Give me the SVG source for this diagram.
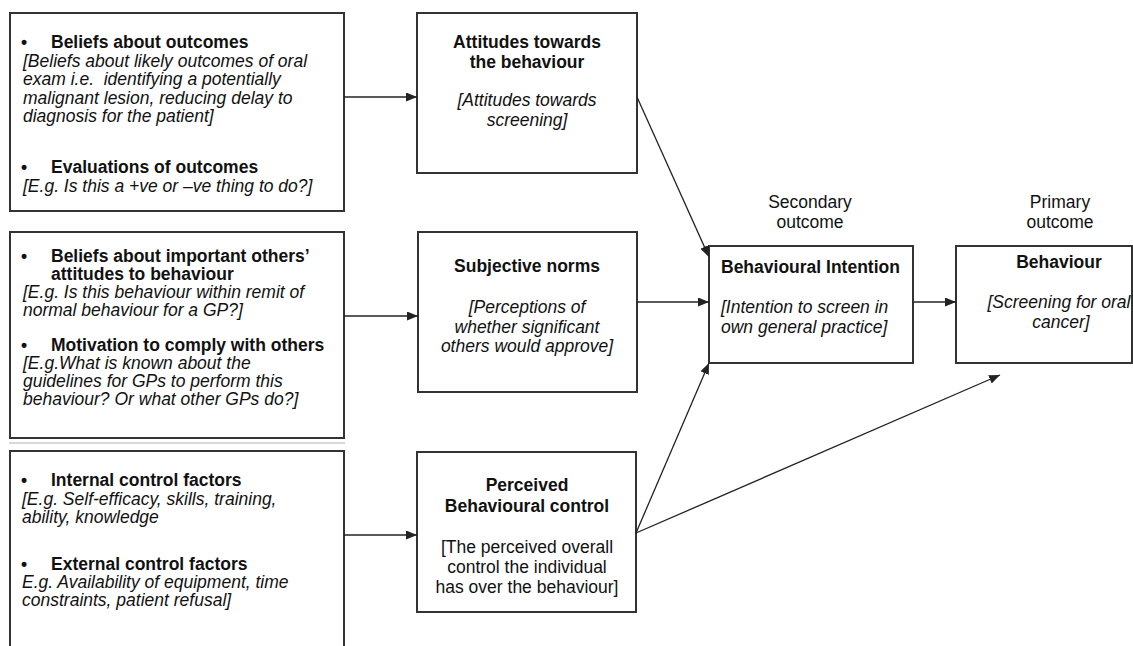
<svg xmlns="http://www.w3.org/2000/svg" width="1133" height="646" viewBox="0 0 1133 646">
<style>
text{font-family:"Liberation Sans",Arial,sans-serif;font-size:17.5px;fill:#111}
.b{font-weight:bold}
.i{font-style:italic}
.c{text-anchor:middle}
.box{fill:#fff;stroke:#333;stroke-width:2}
.conn line{stroke:#222;stroke-width:1.3;fill:none}
</style>
<defs>
<marker id="ah" markerUnits="userSpaceOnUse" markerWidth="12" markerHeight="10" refX="11" refY="4.5" orient="auto">
<path d="M0,0 L11,4.5 L0,9 z" fill="#222"/>
</marker>
</defs>
<rect width="1133" height="646" fill="#fff"/>
<line x1="9" y1="443" x2="345" y2="443" stroke="#d8d8d8" stroke-width="2"/>

<g id="beliefs-outcomes">
<rect class="box" x="10" y="13" width="334" height="198"/>
<text class="b" x="21" y="48">•</text>
<text class="b" x="51" y="48">Beliefs about outcomes</text>
<text class="i" x="23" y="67">[Beliefs about likely outcomes of oral</text>
<text class="i" x="23" y="85">exam i.e.&#160; identifying a potentially</text>
<text class="i" x="23" y="103.5">malignant lesion, reducing delay to</text>
<text class="i" x="23" y="122">diagnosis for the patient]</text>
<text class="b" x="21" y="173">•</text>
<text class="b" x="51" y="173">Evaluations of outcomes</text>
<text class="i" x="23" y="191.5">[E.g. Is this a +ve or –ve thing to do?]</text>
</g>

<g id="normative-beliefs">
<rect class="box" x="10" y="232" width="334" height="206"/>
<text class="b" x="21" y="262">•</text>
<text class="b" x="51" y="262">Beliefs about important others’</text>
<text class="b" x="51" y="280">attitudes to behaviour</text>
<text class="i" x="23" y="298">[E.g. Is this behaviour within remit of</text>
<text class="i" x="23" y="316">normal behaviour for a GP?]</text>
<text class="b" x="21" y="350.5">•</text>
<text class="b" x="51" y="350.5">Motivation to comply with others</text>
<text class="i" x="23" y="368.5">[E.g.What is known about the</text>
<text class="i" x="23" y="387">guidelines for GPs to perform this</text>
<text class="i" x="23" y="405">behaviour? Or what other GPs do?]</text>
</g>

<g id="control-beliefs">
<path class="box" d="M10,647 V451 H344 V647"/>
<text class="b" x="21" y="486">•</text>
<text class="b" x="51" y="486">Internal control factors</text>
<text class="i" x="22" y="505">[E.g. Self-efficacy, skills, training,</text>
<text class="i" x="22" y="523">ability, knowledge</text>
<text class="b" x="21" y="570">•</text>
<text class="b" x="51" y="570">External control factors</text>
<text class="i" x="22" y="588">E.g. Availability of equipment, time</text>
<text class="i" x="22" y="606">constraints, patient refusal]</text>
</g>

<g id="attitudes">
<rect class="box" x="417" y="13" width="220" height="160"/>
<text class="b c" x="527" y="48">Attitudes towards</text>
<text class="b c" x="527" y="68">the behaviour</text>
<text class="i c" x="527" y="106">[Attitudes towards</text>
<text class="i c" x="527" y="126">screening]</text>
</g>

<g id="subjective-norms">
<rect class="box" x="418" y="232" width="219" height="160"/>
<text class="b c" x="527" y="272">Subjective norms</text>
<text class="i c" x="527" y="312.5">[Perceptions of</text>
<text class="i c" x="527" y="332.5">whether significant</text>
<text class="i c" x="527" y="352">others would approve]</text>
</g>

<g id="pbc">
<rect class="box" x="417" y="452" width="219" height="160"/>
<text class="b c" x="527" y="491">Perceived</text>
<text class="b c" x="527" y="512">Behavioural control</text>
<text class="c" x="527" y="553">[The perceived overall</text>
<text class="c" x="527" y="573">control the individual</text>
<text class="c" x="527" y="593">has over the behaviour]</text>
</g>

<g id="intention">
<text class="c" x="810" y="208">Secondary</text>
<text class="c" x="810" y="228">outcome</text>
<rect class="box" x="709" y="246" width="204" height="117"/>
<text class="b" x="721" y="273">Behavioural Intention</text>
<text class="i" x="721" y="313">[Intention to screen in</text>
<text class="i" x="721" y="333">own general practice]</text>
</g>

<g id="behaviour">
<text class="c" x="1060" y="208">Primary</text>
<text class="c" x="1060" y="228">outcome</text>
<rect class="box" x="956" y="246" width="176" height="117"/>
<text class="b c" x="1059" y="268">Behaviour</text>
<text class="i c" x="1059" y="308">[Screening for oral</text>
<text class="i c" x="1061" y="328">cancer]</text>
</g>

<g id="connectors" class="conn">
<line x1="344" y1="97" x2="417" y2="97" marker-end="url(#ah)"/>
<line x1="344" y1="316" x2="418" y2="316" marker-end="url(#ah)"/>
<line x1="344" y1="535" x2="417" y2="535" marker-end="url(#ah)"/>
<line x1="637" y1="97" x2="709" y2="257" marker-end="url(#ah)"/>
<line x1="637" y1="302" x2="709" y2="302" marker-end="url(#ah)"/>
<line x1="636" y1="533" x2="709" y2="363" marker-end="url(#ah)"/>
<line x1="636" y1="533" x2="1000" y2="375" marker-end="url(#ah)"/>
<line x1="913" y1="302" x2="956" y2="302" marker-end="url(#ah)"/>
</g>
</svg>
